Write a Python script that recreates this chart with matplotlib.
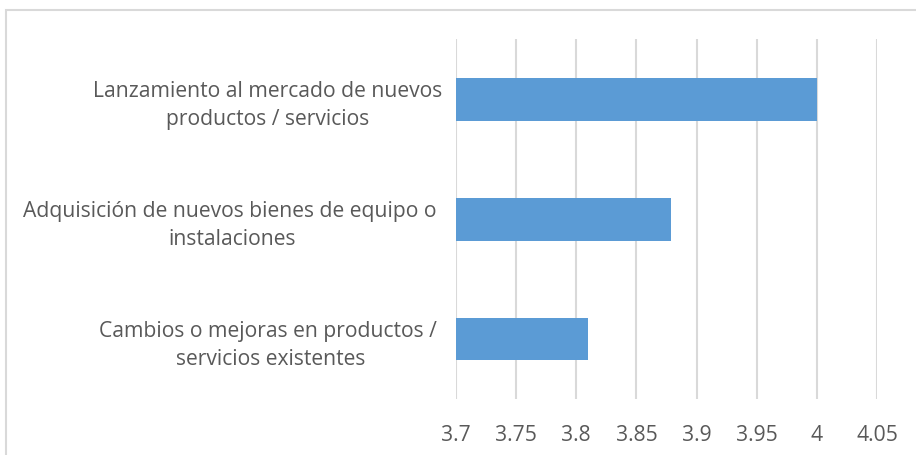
import matplotlib
matplotlib.use("Agg")
from matplotlib import pyplot as plt
from matplotlib.patches import Rectangle

categories = [
    "Cambios o mejoras en productos / \nservicios existentes",
    "Adquisición de nuevos bienes de equipo o \ninstalaciones",
    "Lanzamiento al mercado de nuevos\nproductos / servicios",
]
values = [3.81, 3.879, 4.0]
xticks = [3.7, 3.75, 3.8, 3.85, 3.9, 3.95, 4.0, 4.05]
xticklabels = ["3.7", "3.75", "3.8", "3.85", "3.9", "3.95", "4", "4.05"]

plt.rcParams['font.family'] = ['Open Sans', 'DejaVu Sans']
text_color = '#595959'
grid_color = '#D9D9D9'

fig = plt.figure(figsize=(9.16, 4.55), dpi=100)
ax = fig.add_axes([0.4978, 0.1231, 0.4596, 0.7901])

# outer chart border (runs off the right and bottom edge)
fig.patches.append(Rectangle((6 / 916, -0.1), 1.2, 1 - 10 / 455 + 0.1,
                             transform=fig.transFigure, fill=False,
                             edgecolor=grid_color, linewidth=1.5))

ypos = range(len(categories))
ax.barh(ypos, [v - 3.7 for v in values], left=3.7, height=0.355,
        color='#5B9BD5', zorder=3)

ax.set_xlim(3.7, 4.05)
ax.set_ylim(-0.5, 2.5)
ax.set_xticks(xticks)
ax.set_xticklabels(xticklabels)
ax.set_yticks(list(ypos))
ax.set_yticklabels(categories, multialignment='center')

ax.grid(axis='x', color=grid_color, linewidth=1.5, zorder=0)
for s in ax.spines.values():
    s.set_visible(False)
ax.tick_params(axis='both', length=0, labelsize=15.2, colors=text_color)
ax.tick_params(axis='x', pad=18.5)
ax.tick_params(axis='y', pad=10)
for t in ax.get_yticklabels():
    t.set_linespacing(1.45)

fig.savefig("out.png", dpi=100)
